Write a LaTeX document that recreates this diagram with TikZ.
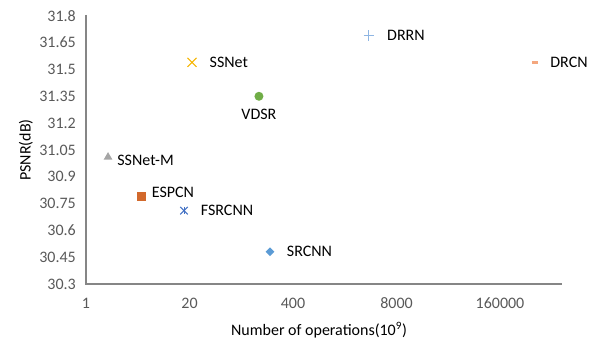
\documentclass[tikz,border=0pt]{standalone}
\usepackage{fontspec}
\setmainfont{Carlito}
\usetikzlibrary{positioning}
\usetikzlibrary{shapes.geometric}
\usetikzlibrary{shapes.misc}
\definecolor{axisgray}{HTML}{868686}
\definecolor{ticktext}{HTML}{595959}
\definecolor{mgray}{HTML}{A5A5A5}
\definecolor{morange}{HTML}{D2692C}
\definecolor{mblue}{HTML}{4472C4}
\definecolor{mlblue}{HTML}{5B9BD5}
\definecolor{mgreen}{HTML}{70AD47}
\definecolor{mgold}{HTML}{F5B400}
\definecolor{mpaleblue}{HTML}{8FB6E3}
\definecolor{mpeach}{HTML}{F4A77E}

\begin{document}
\begin{tikzpicture}[x=1bp,y=1bp,
every node/.style={font=\fontsize{16bp}{19bp}\selectfont},
tick/.style={text=ticktext, inner sep=0pt},
lbl/.style={inner sep=0pt},
mk/.style={inner sep=0pt, minimum size=8bp}]
\useasboundingbox (0,0) rectangle (602,341);
\coordinate (o) at (86,57);
\coordinate (xend) at (562,57);
\coordinate (yend) at (86,326);
\draw[axisgray, line width=1.6bp] (yend) -- (o) -- (xend);
\foreach \v [count=\i from 0] in {30.3,30.45,30.6,30.75,30.9,31.05,31.2,31.35,31.5,31.65,31.8}
  \node[tick, anchor=east] at (76,57+\i*26.82) {\v};
\foreach \v [count=\i from 0] in {1,20,400,8000,160000}
  \node[tick] at (86+\i*103.5,38) {\v};
\node[rotate=90] (ytitle) at (26,191) {PSNR(dB)};
\node (xtitle) at (319,11) {Number of operations(10\textsuperscript{9})};

\begin{scope}[shift={(86,-5357.6)}, x=103.5bp, y=178.7bp]
\node[mk, regular polygon, regular polygon sides=3, fill=mgray, minimum size=10bp] (ssnetm) at (0.213,31.01) {};
\node[mk, rectangle, fill=morange, minimum size=9bp] (espcn) at (0.541,30.79) {};
\node[mk, cross out, draw=mblue, line width=1bp, minimum size=6.5bp] (fsrcnn) at (0.947,30.71) {};
\node[mk, diamond, fill=mlblue, minimum size=9bp] (srcnn) at (1.778,30.48) {};
\node[mk, circle, fill=mgreen, minimum size=9bp] (vdsr) at (1.671,31.35) {};
\node[mk, cross out, draw=mgold, line width=1bp, minimum size=8bp] (ssnet) at (1.024,31.54) {};
\node[mk, cross out, rotate=45, draw=mpaleblue, line width=1bp, minimum size=6.5bp] (drrn) at (2.734,31.69) {};
\node[mk, rectangle, fill=mpeach, minimum width=6bp, minimum height=3.5bp] (drcn) at (4.338,31.54) {};
\end{scope}
\draw[mblue, line width=1bp] (fsrcnn.north) -- (fsrcnn.south);

\node[lbl, right=6bp of ssnetm, yshift=-3bp] (lssnetm) {SSNet-M};
\node[lbl, right=5bp of espcn, yshift=4bp] (lespcn) {ESPCN};
\node[lbl, right=13bp of fsrcnn] (lfsrcnn) {FSRCNN};
\node[lbl, right=12bp of srcnn] (lsrcnn) {SRCNN};
\node[lbl, below=8bp of vdsr] (lvdsr) {VDSR};
\node[lbl, right=13bp of ssnet] (lssnet) {SSNet};
\node[lbl, right=14bp of drrn.center, xshift=4bp] (ldrrn) {DRRN};
\node[lbl, right=12bp of drcn] (ldrcn) {DRCN};
\end{tikzpicture}
\end{document}
